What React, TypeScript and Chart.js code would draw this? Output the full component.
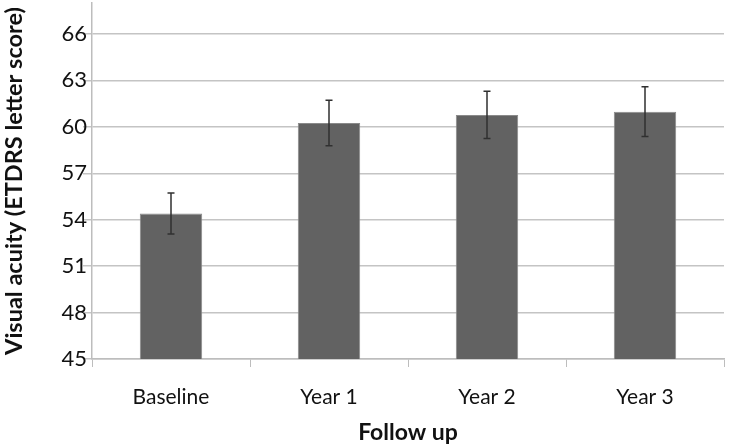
import React, { useEffect, useRef } from "react";
import { Chart, registerables } from "chart.js";

Chart.register(...registerables);

const categories = ["Baseline", "Year 1", "Year 2", "Year 3"];
const meanValues = [54.4, 60.25, 60.77, 60.98];
const errorValues = [1.32, 1.47, 1.53, 1.61];
const yTickValues = [45, 48, 51, 54, 57, 60, 63, 66];

const FONT = "Lato, 'Open Sans', sans-serif";

const errorBarPlugin = {
  id: "errorBars",
  afterDatasetsDraw(chart: any) {
    const ctx = chart.ctx;
    const meta = chart.getDatasetMeta(0);
    const yScale = chart.scales.y;
    ctx.save();
    ctx.strokeStyle = "#303030";
    ctx.lineWidth = 1.5;
    meta.data.forEach((bar: any, i: number) => {
      const x = Math.round(bar.x);
      const top = yScale.getPixelForValue(meanValues[i] + errorValues[i]);
      const bottom = yScale.getPixelForValue(meanValues[i] - errorValues[i]);
      ctx.beginPath();
      ctx.moveTo(x, top);
      ctx.lineTo(x, bottom);
      ctx.moveTo(x - 3.5, top);
      ctx.lineTo(x + 3.5, top);
      ctx.moveTo(x - 3.5, bottom);
      ctx.lineTo(x + 3.5, bottom);
      ctx.stroke();
    });
    ctx.restore();
  },
};

export default function App() {
  const ref = useRef<HTMLCanvasElement | null>(null);
  useEffect(() => {
    document.body.style.margin = "0";
    const chart = new Chart(ref.current as HTMLCanvasElement, {
      type: "bar",
      data: {
        labels: categories,
        datasets: [
          {
            data: meanValues,
            backgroundColor: "#626262",
            borderColor: "#8a8a8a",
            borderWidth: 1,
            barPercentage: 0.395,
            categoryPercentage: 1,
          },
        ],
      },
      options: {
        animation: false,
        responsive: false,
        layout: { padding: { top: 3, right: 8, left: 0, bottom: 0 } },
        plugins: { legend: { display: false }, tooltip: { enabled: false } },
        scales: {
          x: {
            grid: {
              drawOnChartArea: false,
              drawTicks: true,
              tickLength: 8,
              color: "#bdbdbd",
              offset: true,
            },
            border: { color: "#bdbdbd", width: 1.5 },
            ticks: {
              color: "#111",
              font: { family: FONT, size: 21 },
              padding: 18,
            },
            title: {
              display: true,
              text: "Follow up",
              color: "#111",
              font: { family: FONT, size: 23, weight: "bold" },
              padding: { top: 2, bottom: 0 },
            },
            afterFit(scale: any) {
              scale.height = 87;
              scale.paddingLeft = 0;
              scale.paddingRight = 0;
            },
          },
          y: {
            min: 45,
            max: 68,
            afterBuildTicks(scale: any) {
              scale.ticks = yTickValues.map((v) => ({ value: v }));
            },
            grid: {
              color: "#c4c4c4",
              lineWidth: 1.5,
              tickLength: 9,
            },
            border: { color: "#bdbdbd", width: 1.5 },
            ticks: {
              color: "#111",
              font: { family: FONT, size: 22 },
              padding: -4,
            },
            title: {
              display: true,
              text: "Visual acuity (ETDRS letter score)",
              color: "#111",
              font: { family: FONT, size: 23.5, weight: "bold" },
              padding: { top: 0, bottom: 0 },
            },
            afterFit(scale: any) {
              scale.width = 92;
              scale.paddingTop = 0;
              scale.paddingBottom = 0;
            },
          },
        },
      },
      plugins: [errorBarPlugin],
    } as any);
    return () => chart.destroy();
  }, []);
  return (
    <div style={{ position: "absolute", left: 0, top: 0, width: 732, height: 446, background: "#fff" }}>
      <canvas ref={ref} width={732} height={446} />
    </div>
  );
}
